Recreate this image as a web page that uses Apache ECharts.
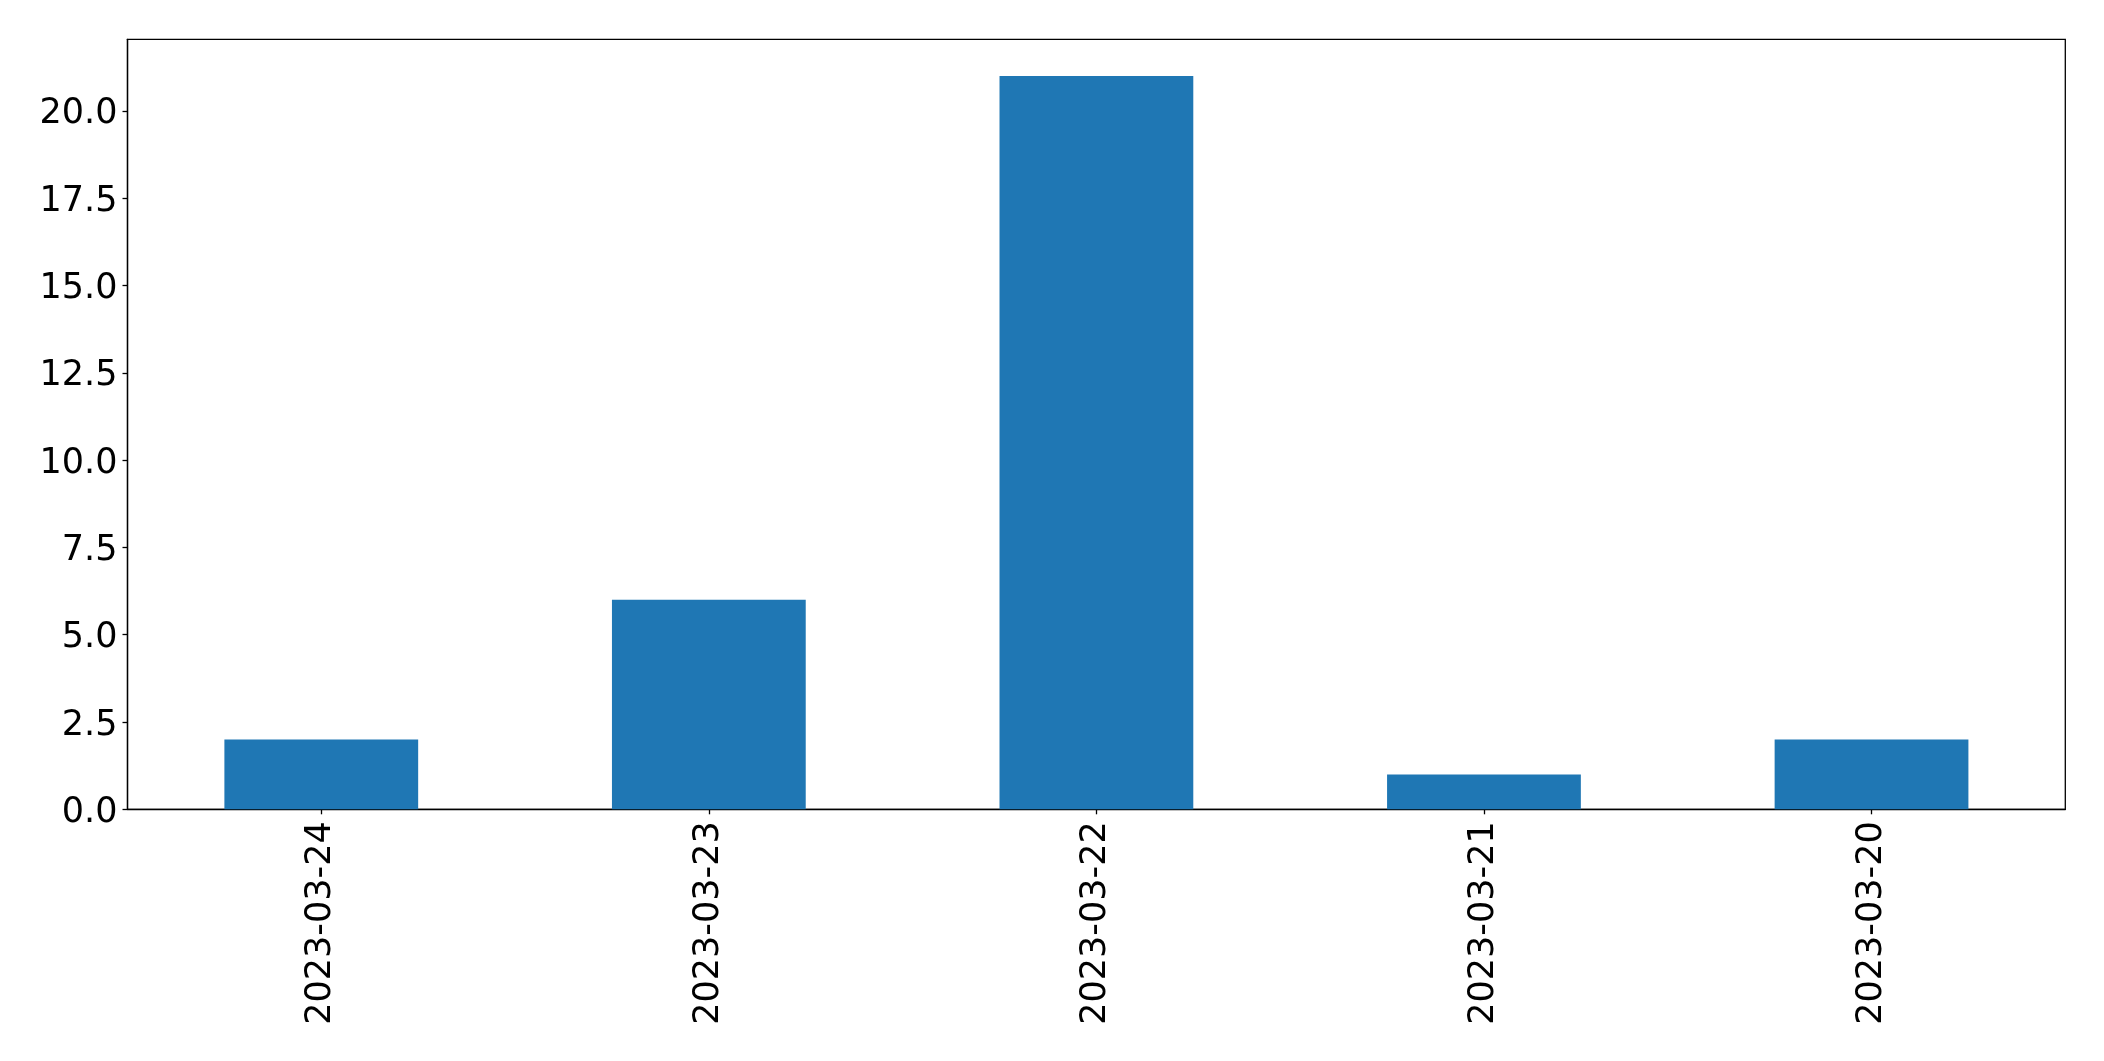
<!DOCTYPE html>
<html>
<head>
<meta charset="utf-8">
<script src="https://cdn.jsdelivr.net/npm/echarts@6/dist/echarts.min.js"></script>
<style>
html,body{margin:0;padding:0;background:#fff;}
#chart{width:2104px;height:1061px;}
</style>
</head>
<body>
<div id="chart"></div>
<script>
const categories = ['2023-03-24', '2023-03-23', '2023-03-22', '2023-03-21', '2023-03-20'];
const values = [2, 6, 21, 1, 2];
const yTickStep = 2.5;
const yMax = 22.05;

const chart = echarts.init(document.getElementById('chart'));
const font = 'DejaVu Sans';
chart.setOption({
  animation: false,
  backgroundColor: '#fff',
  grid: {
    left: 127.5, right: 38.7, top: 39.3, bottom: 251.7,
    show: true, borderColor: '#000', borderWidth: 1.3, backgroundColor: 'transparent',
    containLabel: false
  },
  xAxis: {
    type: 'category',
    data: categories,
    axisLine: { show: true, lineStyle: { color: '#000', width: 1.3 } },
    axisTick: { show: true, alignWithLabel: true, length: 5, lineStyle: { color: '#000', width: 1.3 } },
    axisLabel: { rotate: 90, margin: 12, color: '#000', fontFamily: font, fontSize: 35, interval: 0 },
    splitLine: { show: false }
  },
  yAxis: {
    type: 'value',
    min: 0, max: yMax, interval: yTickStep,
    axisLine: { show: true, lineStyle: { color: '#000', width: 1.3 } },
    axisTick: { show: true, length: 5, lineStyle: { color: '#000', width: 1.3 } },
    axisLabel: {
      margin: 10, color: '#000', fontFamily: font, fontSize: 35,
      showMaxLabel: false,
      formatter: v => (Math.abs(v / yTickStep - Math.round(v / yTickStep)) < 1e-6) ? '{a|' + v.toFixed(1) + '}' : '',
      rich: { a: { fontFamily: font, fontSize: 35, color: '#000', padding: [7, 0, 0, 0] } }
    },
    splitLine: { show: false }
  },
  series: [{
    type: 'bar',
    data: values,
    barWidth: '50%',
    itemStyle: { color: '#1f77b4' }
  }]
});
</script>
</body>
</html>
